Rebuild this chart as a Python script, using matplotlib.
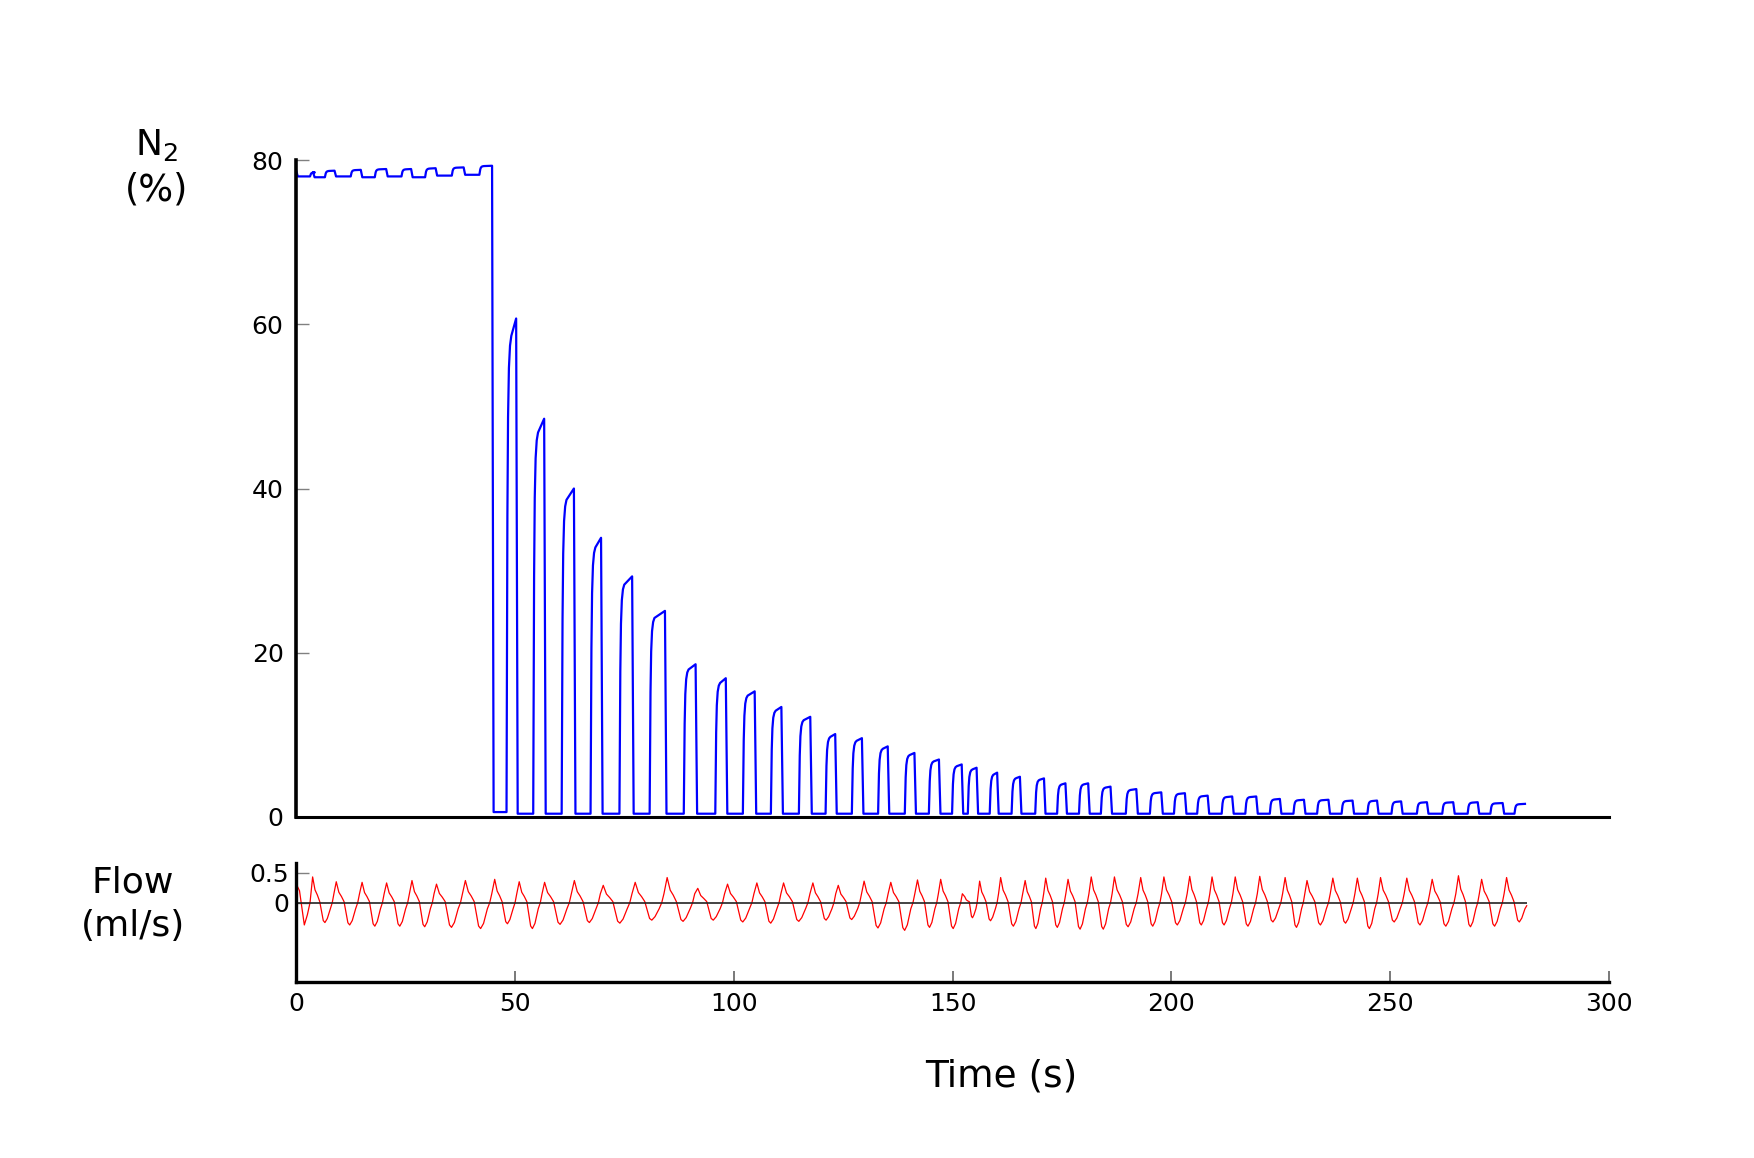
import numpy as np
import matplotlib
matplotlib.use("Agg")
import matplotlib.pyplot as plt

# ---------------- data ----------------
# N2 trace: breaths (expirations) -- rise time, fall time (s), end-expiratory peak (%),
# baseline level before each breath (%)
n2_start = 78.8
n2_rise = [3.2, 6.6, 12.5, 18.0, 24.1, 29.5, 35.6, 41.9,
           48.1, 54.2, 60.7, 67.3, 73.9, 80.8, 88.6, 95.8, 102.1, 108.5,
           114.9, 121.0, 127.0, 133.0, 139.1, 144.6, 149.9, 153.5, 158.5, 163.5,
           168.9, 173.9, 178.9, 183.9, 189.6, 195.1, 200.6, 205.9, 211.5, 216.9,
           222.5, 227.9, 233.3, 238.9, 244.8, 250.3, 256.1, 261.9, 267.7, 272.9,
           278.4]
n2_fall = [4.0, 8.9, 14.9, 20.7, 26.4, 32.0, 38.4, 44.9,
           50.4, 56.8, 63.6, 69.8, 76.9, 84.4, 91.4, 98.3, 104.9, 111.0,
           117.6, 123.3, 129.4, 135.3, 141.4, 147.0, 152.2, 155.6, 160.3, 165.5,
           171.0, 175.9, 181.1, 186.2, 192.1, 197.8, 203.2, 208.4, 214.0, 219.5,
           224.9, 230.4, 236.0, 241.5, 247.1, 252.6, 258.5, 264.5, 270.1, 275.8,
           280.8]
n2_peak = [78.5, 78.7, 78.8, 78.9, 78.9, 79.0, 79.1, 79.3,
           60.7, 48.5, 40.0, 34.0, 29.3, 25.1, 18.6, 16.9, 15.3, 13.4,
           12.2, 10.1, 9.6, 8.6, 7.8, 7.0, 6.4, 6.0, 5.4, 4.9,
           4.7, 4.1, 4.1, 3.7, 3.4, 3.0, 2.9, 2.6, 2.5, 2.5,
           2.2, 2.1, 2.1, 2.0, 2.0, 1.9, 1.8, 1.8, 1.8, 1.7,
           1.6]
n2_base = [78.0, 77.9, 78.0, 77.9, 78.0, 77.9, 78.1, 78.2,
           0.6, 0.4, 0.4, 0.4, 0.4, 0.4, 0.4, 0.4, 0.4, 0.4,
           0.4, 0.4, 0.4, 0.4, 0.4, 0.4, 0.4, 0.4, 0.4, 0.4,
           0.4, 0.4, 0.4, 0.4, 0.4, 0.4, 0.4, 0.4, 0.4, 0.4,
           0.4, 0.4, 0.4, 0.4, 0.4, 0.4, 0.4, 0.4, 0.4, 0.4,
           0.4]

# Flow trace: peak times (s), peak values and trough values (ml/s)
flow_start = 0.32
flow_end_t = 281.2
flow_end_v = -0.05
flow_peak_t = [3.8, 9.2, 15.1, 20.7, 26.5, 32.1, 38.7, 45.4, 51.0, 56.8,
               63.6, 70.2, 77.5, 84.8, 91.8, 98.6, 105.3, 111.4, 118.1, 123.9,
               129.8, 135.9, 142.0, 147.3, 152.8, 156.2, 161.0, 166.6, 171.3, 176.4,
               181.7, 187.0, 193.0, 198.3, 204.2, 209.3, 214.6, 220.2, 226.0, 231.0,
               236.9, 242.5, 247.8, 253.8, 259.6, 265.6, 270.9, 276.6]
flow_peak_v = [0.43, 0.35, 0.34, 0.33, 0.37, 0.31, 0.37, 0.39, 0.35, 0.34,
               0.37, 0.29, 0.34, 0.42, 0.24, 0.31, 0.33, 0.33, 0.33, 0.29,
               0.36, 0.34, 0.38, 0.39, 0.10, 0.36, 0.42, 0.37, 0.41, 0.39,
               0.43, 0.43, 0.42, 0.43, 0.44, 0.43, 0.43, 0.44, 0.42, 0.37,
               0.41, 0.41, 0.42, 0.41, 0.39, 0.45, 0.39, 0.42]
flow_trough_v = [-0.37,
                 -0.33, -0.37, -0.39, -0.39, -0.40, -0.41, -0.43, -0.35, -0.43, -0.36,
                 -0.33, -0.34, -0.29, -0.31, -0.29, -0.32, -0.34, -0.31, -0.29, -0.28,
                 -0.42, -0.46, -0.41, -0.43, -0.25, -0.30, -0.39, -0.43, -0.41, -0.44,
                 -0.44, -0.40, -0.39, -0.37, -0.37, -0.37, -0.39, -0.32, -0.41, -0.37,
                 -0.34, -0.43, -0.32, -0.37, -0.39, -0.40, -0.39, -0.32]

x_ticks = [0, 50, 100, 150, 200, 250, 300]
n2_ticks = [0, 20, 40, 60, 80]
flow_ticks = [0, 0.5]
flow_ticklabels = ["0", "0.5"]

# ---------------- build trace vertices ----------------
# expiration shape: (seconds after rise onset, fraction of the way from baseline to peak)
rise_knees = [(0.0, 0.0), (0.2, 0.6), (0.35, 0.8), (0.55, 0.9), (0.8, 0.945), (1.1, 0.965)]
t_n2 = [0.0, 0.4]
y_n2 = [n2_start, n2_base[0]]
nb = len(n2_rise)
for i in range(nb):
    r, f, p, b = n2_rise[i], n2_fall[i], n2_peak[i], n2_base[i]
    for dt, fr in rise_knees:
        t_n2.append(r + dt)
        y_n2.append(b + fr * (p - b))
    if i < nb - 1:
        t_n2 += [f - 0.1, f + 0.25]
        y_n2 += [p, n2_base[i + 1]]
    else:
        t_n2 += [f]
        y_n2 += [p]

t_fl = [0.0, 0.8, 1.9, 2.6, 3.2]
y_fl = [flow_start, 0.2, flow_trough_v[0], -0.2, 0.0]
npk = len(flow_peak_t)
for k in range(npk):
    tk, P, T = flow_peak_t[k], flow_peak_v[k], flow_trough_v[k + 1]
    d = flow_peak_t[k + 1] - tk if k < npk - 1 else 5.6
    pts = [(0.0, P), (0.1, 0.5 * P), (0.2, 0.3 * P), (0.3, 0.02), (0.45, 0.9 * T),
           (0.52, T), (0.62, 0.8 * T), (0.75, -0.1), (0.83, 0.0), (0.9, 0.15)]
    for frac, v in pts:
        tt = tk + frac * d
        if tt >= flow_end_t:
            break
        t_fl.append(tt)
        y_fl.append(v)
t_fl.append(flow_end_t)
y_fl.append(flow_end_v)

# ---------------- figure ----------------
W, H = 1754, 1158
plt.rcParams['font.family'] = ['DejaVu Sans']
fig = plt.figure(figsize=(W / 100, H / 100), dpi=100)

ax1 = fig.add_axes([296 / W, 1 - 817 / H, 1313 / W, 657 / H])
ax2 = fig.add_axes([296 / W, 1 - 982 / H, 1313 / W, 119.3 / H])

ax1.plot(t_n2, y_n2, color="#0000ff", lw=1.6, solid_joinstyle="round")
ax1.set_xlim(0, 300)
ax1.set_ylim(0, 80)
for s in ("top", "right"):
    ax1.spines[s].set_visible(False)
ax1.spines["left"].set_linewidth(2.6)
ax1.spines["bottom"].set_linewidth(2.2)
ax1.set_xticks([])
ax1.set_yticks(n2_ticks)
ax1.tick_params(axis="y", direction="in", length=9, width=1.0, color="#808080",
                labelsize=18, pad=9)

ax2.plot(t_fl, y_fl, color="#ff0000", lw=0.9)
ax2.hlines(0, t_fl[0], t_fl[-1], color="#222222", lw=1.2)
ax2.set_xlim(0, 300)
ax2.set_ylim(-1.32, 0.667)
for s in ("top", "right"):
    ax2.spines[s].set_visible(False)
ax2.spines["left"].set_linewidth(2.4)
ax2.spines["bottom"].set_linewidth(2.4)
ax2.set_xticks(x_ticks)
ax2.set_yticks(flow_ticks)
ax2.set_yticklabels(flow_ticklabels)
ax2.tick_params(axis="y", direction="in", length=9, width=1.0, color="#808080",
                labelsize=18, pad=5)
ax2.tick_params(axis="x", direction="in", length=8, width=1.1, color="#555555",
                labelsize=18, pad=7)

fig.text(156.7 / W, 1 - 155 / H, "N$_2$", ha="center", va="baseline", fontsize=26)
fig.text(156.7 / W, 1 - 201 / H, "(%)", ha="center", va="baseline", fontsize=26.5)
fig.text(132.5 / W, 1 - 892.7 / H, "Flow", ha="center", va="baseline", fontsize=26)
fig.text(132.5 / W, 1 - 936 / H, "(ml/s)", ha="center", va="baseline", fontsize=26)
fig.text(1001 / W, 1 - 1086 / H, "Time (s)", ha="center", va="baseline", fontsize=27)

fig.savefig("out.png", dpi=100, facecolor="white")
